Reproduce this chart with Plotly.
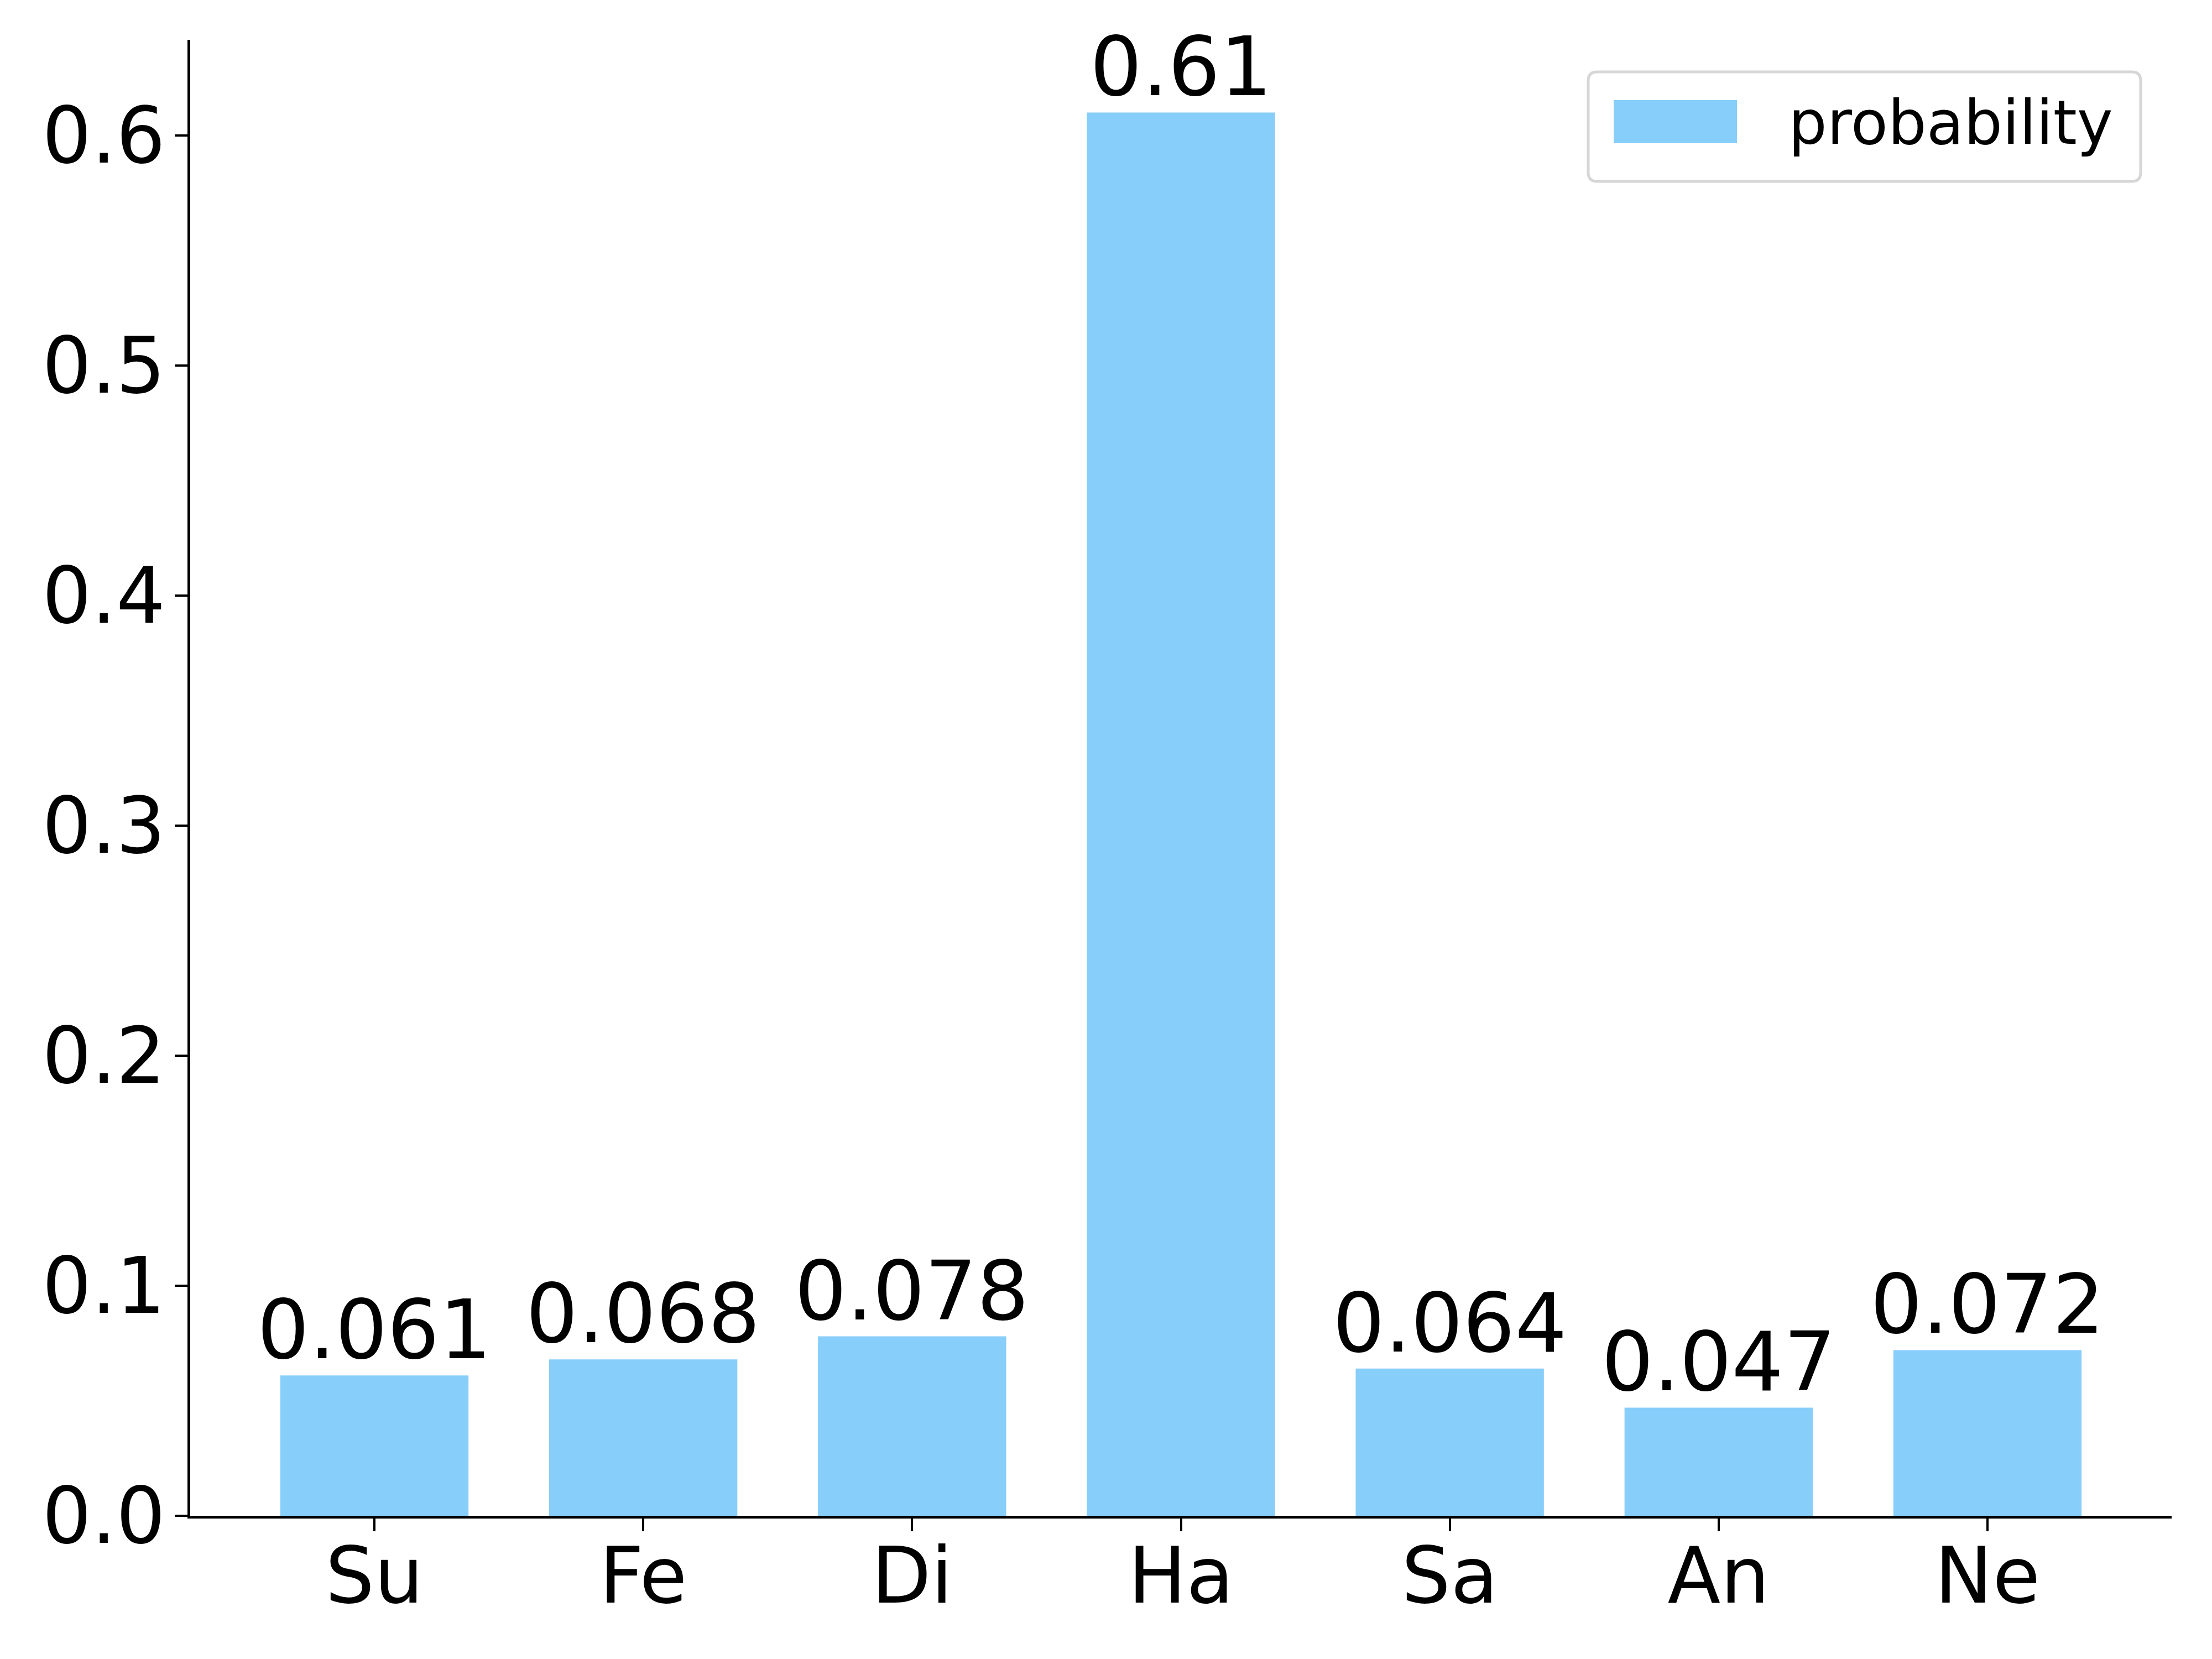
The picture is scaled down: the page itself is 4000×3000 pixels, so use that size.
import plotly.graph_objects as go

categories = ["Su", "Fe", "Di", "Ha", "Sa", "An", "Ne"]
probability = [0.061, 0.068, 0.078, 0.61, 0.064, 0.047, 0.072]
y_ticks = [0.0, 0.1, 0.2, 0.3, 0.4, 0.5, 0.6]
series_name = "probability"

BAR_COLOR = "#87CEFA"
FONT = "DejaVu Sans"
W, H = 4000, 3000
OFF = 8  # default page body margin
# plot area in page pixels
PL, PR, PT, PB = 344, 3927, 72, 2741
ML, MT = PL - OFF, PT - OFF
MR, MB = W - (PR - OFF), H - (PB - OFF)
PW, PH = PR - PL, PB - PT

fig = go.Figure()
fig.add_trace(go.Bar(
    x=list(range(len(categories))), y=probability, width=0.7,
    marker=dict(color=BAR_COLOR, line=dict(width=0)),
    name=series_name, showlegend=False,
))

for i, v in enumerate(probability):
    fig.add_annotation(
        x=i, y=v, xref="x", yref="y", text=f"{v:.2g}", showarrow=False,
        yanchor="bottom", xanchor="center", yshift=-6,
        font=dict(family=FONT, size=148, color="black"),
    )

# custom legend (matplotlib-like)
def px_x(p):
    return (p - PL) / PW

def px_y(p):
    return 1 - (p - PT) / PH

x0, x1, y0, y1 = 2872, 3871, 130, 328
r = 16
rx, ry = r / PW, r / PH
X0, X1, Y0, Y1 = px_x(x0), px_x(x1), px_y(y0), px_y(y1)
path = (f"M{X0+rx},{Y0} L{X1-rx},{Y0} Q{X1},{Y0} {X1},{Y0-ry} "
        f"L{X1},{Y1+ry} Q{X1},{Y1} {X1-rx},{Y1} L{X0+rx},{Y1} "
        f"Q{X0},{Y1} {X0},{Y1+ry} L{X0},{Y0-ry} Q{X0},{Y0} {X0+rx},{Y0} Z")
fig.add_shape(type="path", path=path, xref="paper", yref="paper",
              line=dict(color="#d6d6d6", width=5), fillcolor="rgba(255,255,255,0.8)")
fig.add_shape(type="rect", xref="paper", yref="paper",
              x0=px_x(2918), x1=px_x(3141), y0=px_y(181), y1=px_y(259),
              fillcolor=BAR_COLOR, line=dict(width=0))
fig.add_annotation(
    xref="paper", yref="paper", x=px_x(3232), y=px_y(222), text=series_name,
    showarrow=False, xanchor="left", yanchor="middle",
    font=dict(family=FONT, size=110, color="black"),
)

fig.update_layout(
    width=W, height=H,
    margin=dict(l=ML, r=MR, t=MT, b=MB, pad=0, autoexpand=False),
    paper_bgcolor="white", plot_bgcolor="white",
    font=dict(family=FONT, color="black"),
    bargap=0.3,
)
fig.update_xaxes(
    range=[-0.685, 6.685], tickmode="array",
    tickvals=list(range(len(categories))), ticktext=categories,
    showline=True, linecolor="black", linewidth=5,
    ticks="outside", ticklen=23, tickwidth=4, tickcolor="black",
    showgrid=False, zeroline=False, automargin=False,
    tickfont=dict(family=FONT, size=140, color="black"),
    ticklabelstandoff=-39,
)
fig.update_yaxes(
    range=[0, 0.6416], tickmode="array", tickvals=y_ticks,
    ticktext=[f"{t:.1f}" for t in y_ticks],
    showline=True, linecolor="black", linewidth=5,
    ticks="outside", ticklen=23, tickwidth=4, tickcolor="black",
    showgrid=False, zeroline=False, automargin=False,
    tickfont=dict(family=FONT, size=140, color="black"),
    ticklabelstandoff=-11,
)

fig.write_html("out.html")
